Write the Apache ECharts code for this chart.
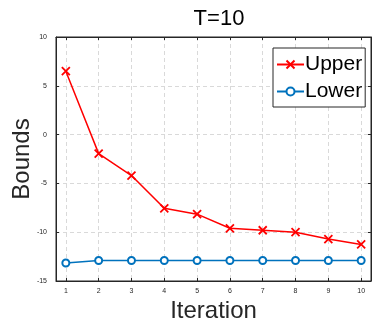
<!DOCTYPE html>
<html lang="en">
<head>
    <meta charset="UTF-8">
    <title>T=10</title>
    <script src="https://cdn.jsdelivr.net/npm/echarts@6/dist/echarts.min.js"></script>
</head>
<body style="margin:0">
<div id="my" style="width:382px;height:327px"></div>
<script>
    var iterations=[1,2,3,4,5,6,7,8,9,10]
    var upper=[6.5,-1.95,-4.2,-7.55,-8.15,-9.6,-9.8,-10.0,-10.7,-11.25]
    var lower=[-13.15,-12.9,-12.9,-12.9,-12.9,-12.9,-12.9,-12.9,-12.9,-12.9]
    var yTicks=[-15,-10,-5,0,5,10]

    function pairs(ys){
        var arr=[]
        for (var i=0;i<iterations.length;i++){
            arr.push([iterations[i],ys[i]])
        }
        return arr
    }

    var font='Liberation Sans'
    var frame='#262626'
    var mCharts=echarts.init(document.getElementById('my'))
    var xLabel={fontSize:7,color:'#262626',fontFamily:font,margin:7,
        formatter:function(v){return Number.isInteger(v)?String(v):''}}
    var option={
        animation:false,
        textStyle:{fontFamily:font},
        title:{
            text:'T=10',
            left:214,top:3,textAlign:'center',
            textStyle:{fontSize:22,fontWeight:'normal',color:'#000'}
        },
        legend:{
            orient:'vertical',
            left:273,top:48,
            padding:[6,3,5,3],
            itemGap:6,
            itemWidth:27,itemHeight:10,
            backgroundColor:'#fff',
            borderColor:frame,borderWidth:1,
            textStyle:{fontSize:21,color:'#000',padding:[0,0,0,-4]},
            data:['Upper','Lower']
        },
        grid:{left:56,right:11,top:37,bottom:46,show:true,borderColor:frame,borderWidth:1,
            outerBoundsMode:'none',containLabel:false},
        xAxis:[{
            type:'value',min:0.7,max:10.3,splitNumber:10,
            name:'Iteration',nameLocation:'middle',nameGap:18,nameMoveOverlap:false,
            nameTextStyle:{fontSize:24,color:'#262626'},
            axisLine:{show:true,onZero:false,lineStyle:{color:frame}},
            axisTick:{inside:true,length:3,lineStyle:{color:frame}},
            axisLabel:xLabel,
            splitLine:{show:true,lineStyle:{color:'#d9d9d9',type:[4,3]}}
        },{
            type:'value',position:'top',min:0.7,max:10.3,splitNumber:10,
            axisLine:{show:true,onZero:false,lineStyle:{color:frame}},
            axisTick:{inside:true,length:3,lineStyle:{color:frame}},
            axisLabel:{show:false},splitLine:{show:false}
        }],
        yAxis:[{
            type:'value',min:-15,max:10,interval:5,
            name:'Bounds',nameLocation:'middle',nameGap:22,nameMoveOverlap:false,
            nameTextStyle:{fontSize:24,color:'#262626'},
            axisLine:{show:true,onZero:false,lineStyle:{color:frame}},
            axisTick:{inside:true,length:3,lineStyle:{color:frame}},
            axisLabel:{fontSize:7,color:'#262626',margin:9,
                formatter:function(v){return yTicks.indexOf(v)>=0?String(v):''}},
            splitLine:{show:true,lineStyle:{color:'#d9d9d9',type:[4,3]}}
        },{
            type:'value',position:'right',min:-15,max:10,interval:5,
            axisLine:{show:true,onZero:false,lineStyle:{color:frame}},
            axisTick:{inside:true,length:3,lineStyle:{color:frame}},
            axisLabel:{show:false},splitLine:{show:false}
        }],
        series:[
            {
                name:'Upper',type:'line',
                data:pairs(upper),
                symbol:'path://M0,0L10,10M10,0L0,10',
                symbolSize:8,
                lineStyle:{color:'#ff0000',width:1.5},
                itemStyle:{color:'#ff0000',borderColor:'#ff0000',borderWidth:1.8}
            },
            {
                name:'Lower',type:'line',
                data:pairs(lower),
                symbol:'emptyCircle',
                symbolSize:7,
                lineStyle:{color:'#0072bd',width:1.5},
                itemStyle:{color:'#0072bd',borderColor:'#0072bd',borderWidth:1.8}
            }
        ]
    }
    mCharts.setOption(option)
    window.onresize=mCharts.resize
</script>
</body>
</html>
